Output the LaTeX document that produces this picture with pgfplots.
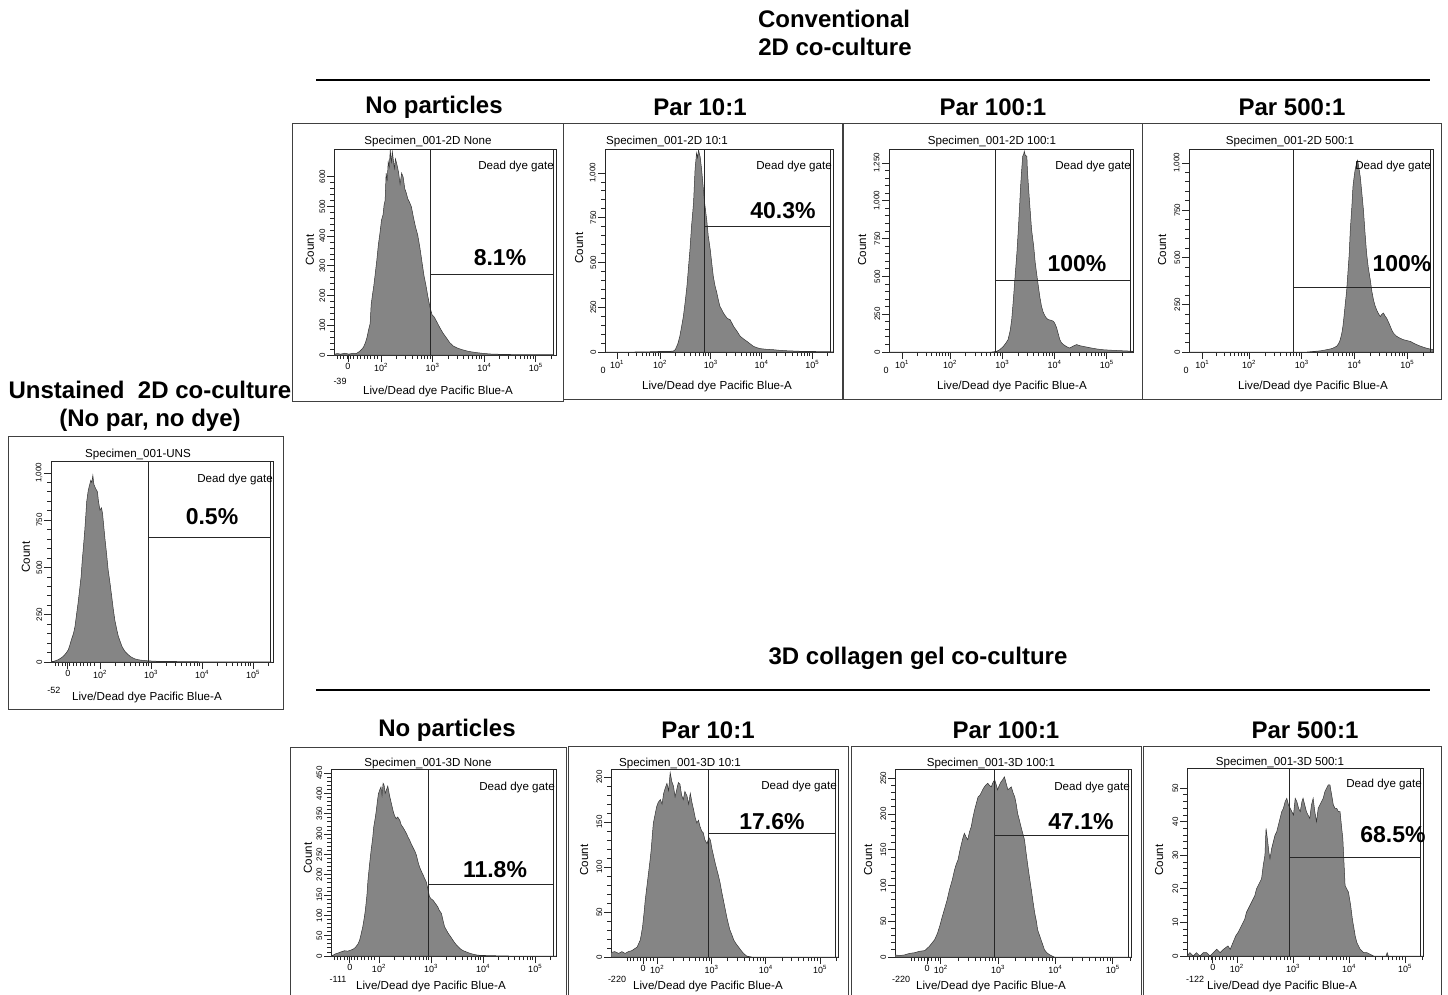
\documentclass[border=0pt]{standalone}
\usepackage{fontspec}
\setmainfont{Liberation Sans}
\usepackage{pgfplots}
\pgfplotsset{compat=1.18}

\newcommand\hdr{\fontsize{24}{28}\selectfont\bfseries}
\newcommand\pct{\fontsize{23}{27}\selectfont\bfseries}
\newcommand\sml{\fontsize{11.6}{13}\selectfont}
\newcommand\tkx{\fontsize{9}{10}\selectfont}
\newcommand\tky{\fontsize{8}{9}\selectfont}
\newcommand\ten[1]{10\textsuperscript{#1}}

% log minor ticks for the decades 10^2..10^5
\def\LM{2.301,2.477,2.602,2.699,2.778,2.845,2.903,2.954,3.301,3.477,3.602,3.699,3.778,3.845,3.903,3.954,4.301,4.477,4.602,4.699,4.778,4.845,4.903,4.954,5.301}

\tikzset{gate/.style={black!85, line width=0.9pt}}
\pgfplotsset{
  fcs/.style={
    scale only axis, anchor=south west,
    ymin=0, tick pos=left, tick align=outside,
    axis line style={black!85, line width=0.9pt},
    tick style={black!85, line width=0.8pt},
    major tick length=7pt, minor tick length=4pt,
    minor y tick num=4,
    xticklabel style={font=\tkx, inner sep=1pt},
    yticklabel style={font=\tky, rotate=90, anchor=south, inner sep=1.5pt},
    /pgf/number format/1000 sep={,},
    /pgf/number format/assume math mode=true,
  },
  logx/.style={xtick={#1,2,3,4,5},
    xticklabels={\ten{1},\ten{2},\ten{3},\ten{4},\ten{5}},
    minor xtick/.expanded={1.38,1.54,1.65,1.73,1.80,1.86,1.91,1.96,\LM}},
  biex/.style 2 args={xtick={#1,2,3,4,5},
    xticklabels={0,\ten{2},\ten{3},\ten{4},\ten{5}},
    minor xtick/.expanded={#2,\LM}},
  hist/.style={fill=black!48, draw=black!80, line width=0.5pt},
}
% inner right line of each plot frame
\newcommand\rline{\draw[gate] ([xshift=-2.5pt]rel axis cs:1,0) -- ([xshift=-2.5pt]rel axis cs:1,1);}

\begin{document}
\begin{tikzpicture}
\useasboundingbox (0pt,0pt) rectangle (1448pt,-995pt);

% ---------- 2D None
\begin{axis}[fcs, at={(334pt,-355pt)}, width=222pt, height=206pt,
  xmin=1.09, xmax=5.39, ymax=693, biex={1.36}{1.15,1.215,...,1.95},
  ytick={0,100,...,600}]
\addplot[hist] table {
1.09 2
1.15 5
1.22 3
1.30 6
1.38 3
1.46 6
1.52 5
1.56 9
1.61 16
1.66 26
1.70 42
1.73 60
1.76 85
1.79 106
1.81 170
1.83 196
1.86 232
1.89 275
1.92 320
1.95 372
1.98 410
2.01 454
2.04 472
2.06 505
2.08 520
2.10 612
2.12 585
2.14 650
2.16 632
2.18 690
2.20 645
2.22 684
2.24 655
2.26 628
2.28 660
2.31 640
2.34 615
2.37 575
2.40 612
2.43 598
2.46 560
2.49 545
2.52 525
2.55 515
2.59 498
2.63 462
2.67 430
2.71 405
2.75 365
2.79 318
2.83 270
2.87 235
2.91 195
2.95 160
2.99 135
3.03 128
3.08 112
3.14 92
3.20 74
3.27 57
3.33 42
3.40 30
3.50 22
3.59 17
3.70 12
3.85 8
4.00 5
4.15 3
4.40 2
4.75 1
5.10 1
5.35 1
} \closedcycle;
\draw[gate] (axis cs:2.95,0) -- (axis cs:2.95,693);
\draw[gate] (axis cs:2.95,270) -- (axis cs:5.34,270);
\rline
\end{axis}

% ---------- 2D 10:1
\begin{axis}[fcs, at={(605pt,-352pt)}, width=228pt, height=203pt,
  xmin=0.915, xmax=5.41, ymax=1134, logx={1.15},
  ytick={0,250,...,1000}]
\addplot[hist] table {
0.92 0
1.50 0
1.93 2
2.00 4
2.15 3
2.26 5
2.30 13
2.35 45
2.39 88
2.43 150
2.46 199
2.50 290
2.53 367
2.56 470
2.59 572
2.62 700
2.66 832
2.69 1019
2.72 1112
2.74 1085
2.76 1130
2.78 1100
2.79 1093
2.82 1019
2.85 925
2.88 830
2.92 739
2.95 650
2.99 572
3.02 495
3.05 423
3.08 375
3.12 330
3.15 290
3.18 255
3.22 235
3.25 218
3.28 205
3.32 190
3.35 184
3.38 181
3.42 160
3.45 143
3.52 115
3.58 88
3.65 72
3.71 60
3.78 45
3.84 32
3.90 25
3.97 19
4.10 15
4.23 13
4.37 9
4.50 7
4.76 4
5.02 3
5.30 2
5.41 1
} \closedcycle;
\draw[gate] (axis cs:2.87,0) -- (axis cs:2.87,1134);
\draw[gate] (axis cs:2.87,704) -- (axis cs:5.36,704);
\rline
\end{axis}

% ---------- 2D 100:1
\begin{axis}[fcs, at={(889pt,-352pt)}, width=244pt, height=203pt,
  xmin=0.833, xmax=5.50, ymax=1342, logx={1.08},
  ytick={0,250,...,1250}]
\addplot[hist] table {
0.83 0
2.80 0
2.89 4
2.95 15
3.02 37
3.07 60
3.11 82
3.15 140
3.18 214
3.21 340
3.24 478
3.28 660
3.31 831
3.33 960
3.35 1096
3.37 1200
3.39 1294
3.41 1310
3.42 1327
3.44 1300
3.47 1294
3.48 1200
3.50 1096
3.53 950
3.56 809
3.60 700
3.63 589
3.66 510
3.69 434
3.72 360
3.75 302
3.78 265
3.82 236
3.85 222
3.88 214
3.93 210
3.98 203
4.01 185
4.04 159
4.07 120
4.10 82
4.13 62
4.17 49
4.23 35
4.29 26
4.35 38
4.42 49
4.48 42
4.55 37
4.65 30
4.74 24
4.83 19
4.93 15
5.02 13
5.12 11
5.25 9
5.38 7
5.47 5
5.50 4
} \closedcycle;
\draw[gate] (axis cs:2.86,0) -- (axis cs:2.86,1342);
\draw[gate] (axis cs:2.86,476) -- (axis cs:5.45,476);
\rline
\end{axis}

% ---------- 2D 500:1
\begin{axis}[fcs, at={(1189pt,-352pt)}, width=244pt, height=203pt,
  xmin=0.86, xmax=5.49, ymax=1074, logx={1.11},
  ytick={0,250,...,1000}]
\addplot[hist] table {
0.86 0
3.10 0
3.22 3
3.35 6
3.47 12
3.57 18
3.66 30
3.70 45
3.73 65
3.76 100
3.78 135
3.80 185
3.82 241
3.85 320
3.87 399
3.90 520
3.92 645
3.95 770
3.97 873
3.99 920
4.01 961
4.04 1000
4.06 1014
4.08 980
4.11 926
4.14 840
4.17 750
4.20 630
4.23 522
4.26 450
4.30 381
4.33 320
4.36 276
4.39 245
4.42 223
4.45 205
4.49 188
4.52 200
4.55 206
4.58 190
4.61 179
4.65 155
4.68 135
4.71 115
4.74 100
4.80 83
4.87 72
4.93 65
5.00 60
5.06 56
5.12 47
5.18 39
5.25 31
5.31 25
5.37 20
5.43 16
5.47 14
5.49 12
} \closedcycle;
\draw[gate] (axis cs:2.85,0) -- (axis cs:2.85,1074);
\draw[gate] (axis cs:2.85,339) -- (axis cs:5.44,339);
\rline
\end{axis}

% ---------- Unstained
\begin{axis}[fcs, at={(51pt,-662pt)}, width=222pt, height=201pt,
  xmin=1.04, xmax=5.39, ymax=1063, biex={1.37}{1.12,1.19,...,1.95},
  ytick={0,250,...,1000}]
\addplot[hist] table {
1.04 2
1.10 4
1.18 12
1.23 20
1.28 30
1.33 45
1.38 65
1.41 90
1.44 118
1.48 150
1.51 188
1.54 250
1.57 311
1.60 380
1.63 452
1.65 530
1.67 592
1.70 690
1.72 768
1.74 850
1.77 908
1.79 930
1.82 961
1.84 950
1.86 987
1.88 940
1.90 926
1.93 910
1.95 900
1.97 850
2.00 803
2.03 815
2.05 785
2.08 700
2.10 645
2.13 570
2.16 487
2.20 410
2.23 346
2.26 280
2.29 223
2.33 170
2.36 135
2.40 105
2.43 83
2.46 68
2.49 56
2.54 42
2.59 30
2.64 22
2.69 16
2.75 12
2.82 9
2.95 6
3.10 4
3.41 3
3.70 2
4.06 1
4.50 1
5.37 0
} \closedcycle;
\draw[gate] (axis cs:2.94,0) -- (axis cs:2.94,1063);
\draw[gate] (axis cs:2.94,661) -- (axis cs:5.34,661);
\rline
\end{axis}

% ---------- 3D None
\begin{axis}[fcs, at={(331pt,-956pt)}, width=225pt, height=187pt,
  xmin=1.08, xmax=5.40, ymax=460, biex={1.44}{1.14,1.205,...,1.95},
  ytick={0,50,...,450}]
\addplot[hist] table {
1.08 1
1.12 2
1.16 5
1.21 7
1.27 10
1.34 13
1.40 12
1.47 15
1.52 18
1.56 23
1.60 30
1.63 39
1.66 55
1.69 72
1.72 95
1.74 113
1.77 150
1.79 187
1.82 225
1.85 260
1.88 290
1.90 317
1.93 340
1.95 358
1.97 380
1.99 399
2.02 410
2.04 416
2.06 395
2.08 425
2.10 420
2.12 400
2.14 407
2.17 418
2.21 391
2.24 375
2.27 358
2.30 345
2.33 338
2.36 342
2.40 334
2.43 322
2.46 317
2.50 308
2.53 301
2.56 292
2.59 285
2.62 276
2.65 268
2.69 258
2.72 248
2.75 232
2.78 219
2.81 210
2.85 199
2.88 190
2.91 182
2.94 165
2.97 146
3.00 141
3.04 137
3.08 130
3.13 121
3.16 112
3.20 105
3.23 88
3.26 72
3.30 63
3.33 56
3.38 47
3.42 39
3.47 30
3.52 23
3.57 17
3.62 13
3.68 10
3.74 7
3.82 4
3.90 2
4.10 1
4.50 0
5.40 0
} \closedcycle;
\draw[gate] (axis cs:2.96,0) -- (axis cs:2.96,460);
\draw[gate] (axis cs:2.96,177) -- (axis cs:5.35,177);
\rline
\end{axis}

% ---------- 3D 10:1
\begin{axis}[fcs, at={(611pt,-957pt)}, width=227pt, height=188pt,
  xmin=1.15, xmax=5.33, ymax=209, biex={1.74}{1.45,1.51,...,1.97},
  ytick={0,50,...,200}]
\addplot[hist] table {
1.15 5
1.22 6
1.29 4
1.35 6
1.41 4
1.47 6
1.53 7
1.58 9
1.63 11
1.66 15
1.69 19
1.71 26
1.73 33
1.76 50
1.78 63
1.81 78
1.84 93
1.87 108
1.89 119
1.91 135
1.93 149
1.96 158
1.99 167
2.02 172
2.06 175
2.09 170
2.12 182
2.15 188
2.18 193
2.21 185
2.24 205
2.27 195
2.30 190
2.33 178
2.36 186
2.39 194
2.42 192
2.45 180
2.48 175
2.51 184
2.55 179
2.58 170
2.61 182
2.64 172
2.67 164
2.70 155
2.73 149
2.76 152
2.79 145
2.82 140
2.85 138
2.88 130
2.92 126
2.95 133
2.98 130
3.01 120
3.04 112
3.07 104
3.10 97
3.13 90
3.16 82
3.19 72
3.22 63
3.25 54
3.28 45
3.31 37
3.34 30
3.38 24
3.41 19
3.45 15
3.50 11
3.55 7
3.59 4
3.65 1
3.74 0
5.33 0
} \closedcycle;
\draw[gate] (axis cs:2.94,0) -- (axis cs:2.94,209);
\draw[gate] (axis cs:2.94,137) -- (axis cs:5.28,137);
\rline
\end{axis}

% ---------- 3D 100:1
\begin{axis}[fcs, at={(895pt,-957pt)}, width=236pt, height=188pt,
  xmin=1.20, xmax=5.32, ymax=263, biex={1.76}{1.48,1.54,...,1.97},
  ytick={0,50,...,250}]
\addplot[hist] table {
1.20 3
1.28 2
1.37 3
1.45 5
1.54 6
1.63 8
1.72 9
1.76 12
1.80 15
1.85 20
1.89 24
1.94 33
1.98 43
2.02 55
2.06 66
2.11 80
2.15 94
2.20 108
2.24 122
2.27 130
2.30 136
2.33 148
2.35 155
2.38 165
2.41 173
2.44 168
2.47 164
2.50 175
2.53 182
2.56 195
2.59 206
2.62 215
2.65 224
2.68 226
2.70 229
2.73 234
2.76 238
2.79 241
2.82 243
2.85 240
2.88 238
2.91 244
2.94 248
2.97 240
2.99 234
3.02 240
3.05 245
3.08 248
3.11 252
3.14 243
3.17 234
3.20 236
3.23 238
3.26 230
3.29 224
3.32 212
3.34 201
3.37 192
3.40 182
3.43 173
3.46 164
3.49 145
3.52 127
3.55 110
3.58 94
3.61 77
3.64 61
3.67 49
3.69 38
3.72 31
3.75 24
3.78 17
3.81 10
3.85 6
3.90 3
3.98 0
5.32 0
} \closedcycle;
\draw[gate] (axis cs:2.94,0) -- (axis cs:2.94,263);
\draw[gate] (axis cs:2.94,170) -- (axis cs:5.28,170);
\rline
\end{axis}

% ---------- 3D 500:1
\begin{axis}[fcs, at={(1187pt,-956pt)}, width=236pt, height=188pt,
  xmin=1.11, xmax=5.32, ymax=56, biex={1.57}{1.16,1.225,...,1.97},
  ytick={0,10,...,50}]
\addplot[hist] table {
1.11 0
1.16 1
1.22 0
1.28 1
1.34 0
1.40 1
1.46 1
1.52 0
1.58 1
1.64 2
1.70 1
1.76 2
1.84 3
1.88 2
1.93 4
1.98 6
2.02 7
2.05 8
2.08 9
2.11 10
2.14 11
2.17 13
2.20 14
2.23 15
2.26 16
2.29 17
2.32 18
2.35 20
2.38 21
2.41 22
2.44 23
2.47 27
2.50 30
2.52 38
2.55 34
2.57 31
2.59 29
2.62 32
2.65 34
2.68 36
2.71 37
2.74 39
2.77 41
2.80 43
2.83 44
2.86 46
2.89 47
2.92 45
2.95 44
2.98 43
3.01 42
3.04 47
3.07 46
3.10 44
3.13 43
3.16 46
3.18 47
3.21 45
3.24 43
3.27 42
3.30 41
3.33 45
3.36 47
3.39 43
3.42 40
3.45 44
3.48 45
3.51 46
3.54 47
3.57 49
3.60 50
3.63 51
3.66 51
3.69 48
3.72 45
3.75 44
3.78 44
3.81 43
3.84 43
3.87 38
3.89 35
3.91 28
3.93 21
3.96 20
3.99 19
4.01 17
4.03 15
4.06 11
4.08 9
4.11 6
4.14 4
4.17 3
4.20 2
4.26 1
4.32 1
4.44 0
4.66 0
4.68 1
4.70 0
5.32 0
} \closedcycle;
\draw[gate] (axis cs:2.94,0) -- (axis cs:2.94,56);
\draw[gate] (axis cs:2.94,29.5) -- (axis cs:5.28,29.5);
\rline
\end{axis}

% ---------- frames, headings and panel texts (pixel grid)
\begin{scope}[x=1pt, y=-1pt]
\begin{scope}[black!75, line width=1pt]
\draw (292,124) rectangle (563,401);
\draw (563,124) rectangle (842,399);
\draw (843,124) rectangle (1142,399);
\draw (1142,124) rectangle (1441,399);
\draw (8,436) rectangle (283,709);
\draw (290,995) -- (290,747) -- (566,747) -- (566,995);
\draw (568,995) -- (568,746) -- (848,746) -- (848,995);
\draw (851,995) -- (851,746) -- (1141,746) -- (1141,995);
\draw (1143,995) -- (1143,746) -- (1441,746) -- (1441,995);
\end{scope}

\node[font=\hdr] at (834,19) {Conventional};
\node[font=\hdr] at (835,47) {2D co-culture};
\draw[line width=1.3pt] (316,80) -- (1430,80);
\node[font=\hdr] at (434,107) {No particles};
\node[font=\hdr] at (700,107) {Par 10:1};
\node[font=\hdr] at (993,107) {Par 100:1};
\node[font=\hdr] at (1292,107) {Par 500:1};
\node[font=\hdr] at (150,390) {Unstained\ \ 2D co-culture};
\node[font=\hdr] at (150,420) {(No par, no dye)};
\node[font=\hdr] at (918,658) {3D collagen gel co-culture};
\draw[line width=1.3pt] (316,690) -- (1430,690);
\node[font=\hdr] at (447,730) {No particles};
\node[font=\hdr] at (708,730) {Par 10:1};
\node[font=\hdr] at (1006,730) {Par 100:1};
\node[font=\hdr] at (1305,730) {Par 500:1};

% panel titles
\node[font=\sml] at (428,142) {Specimen\_001-2D None};
\node[font=\sml] at (667,142) {Specimen\_001-2D 10:1};
\node[font=\sml] at (992,142) {Specimen\_001-2D 100:1};
\node[font=\sml] at (1290,142) {Specimen\_001-2D 500:1};
\node[font=\sml] at (138,454) {Specimen\_001-UNS};
\node[font=\sml] at (428,763) {Specimen\_001-3D None};
\node[font=\sml] at (680,763) {Specimen\_001-3D 10:1};
\node[font=\sml] at (991,763) {Specimen\_001-3D 100:1};
\node[font=\sml] at (1280,762) {Specimen\_001-3D 500:1};

% gate names
\node[font=\sml, anchor=east, inner sep=0pt] at (554,167) {Dead dye gate};
\node[font=\sml, anchor=east, inner sep=0pt] at (832,167) {Dead dye gate};
\node[font=\sml, anchor=east, inner sep=0pt] at (1131,167) {Dead dye gate};
\node[font=\sml, anchor=east, inner sep=0pt] at (1431,167) {Dead dye gate};
\node[font=\sml, anchor=east, inner sep=0pt] at (273,479) {Dead dye gate};
\node[font=\sml, anchor=east, inner sep=0pt] at (555,787) {Dead dye gate};
\node[font=\sml, anchor=east, inner sep=0pt] at (837,786) {Dead dye gate};
\node[font=\sml, anchor=east, inner sep=0pt] at (1130,787) {Dead dye gate};
\node[font=\sml, anchor=east, inner sep=0pt] at (1422,784) {Dead dye gate};

% percentages
\node[font=\pct] at (500,258) {8.1\%};
\node[font=\pct] at (783,211) {40.3\%};
\node[font=\pct] at (1077,264) {100\%};
\node[font=\pct] at (1402,264) {100\%};
\node[font=\pct] at (212,517) {0.5\%};
\node[font=\pct] at (495,870) {11.8\%};
\node[font=\pct] at (772,822) {17.6\%};
\node[font=\pct] at (1081,822) {47.1\%};
\node[font=\pct] at (1393,835) {68.5\%};

% Count labels
\node[font=\sml, rotate=90] at (310,250) {Count};
\node[font=\sml, rotate=90] at (579,248) {Count};
\node[font=\sml, rotate=90] at (862,250) {Count};
\node[font=\sml, rotate=90] at (1162,250) {Count};
\node[font=\sml, rotate=90] at (26,557) {Count};
\node[font=\sml, rotate=90] at (308,858) {Count};
\node[font=\sml, rotate=90] at (584,860) {Count};
\node[font=\sml, rotate=90] at (868,860) {Count};
\node[font=\sml, rotate=90] at (1159,860) {Count};

% x axis labels
\node[font=\sml] at (438,391) {Live/Dead dye Pacific Blue-A};
\node[font=\sml] at (717,386) {Live/Dead dye Pacific Blue-A};
\node[font=\sml] at (1012,386) {Live/Dead dye Pacific Blue-A};
\node[font=\sml] at (1313,386) {Live/Dead dye Pacific Blue-A};
\node[font=\sml] at (147,697) {Live/Dead dye Pacific Blue-A};
\node[font=\sml] at (431,986) {Live/Dead dye Pacific Blue-A};
\node[font=\sml] at (708,986) {Live/Dead dye Pacific Blue-A};
\node[font=\sml] at (991,986) {Live/Dead dye Pacific Blue-A};
\node[font=\sml] at (1282,986) {Live/Dead dye Pacific Blue-A};

% lowest scale values at the left ends of the x axes
\node[font=\tkx] at (340,381) {-39};
\node[font=\tkx] at (603,370) {0};
\node[font=\tkx] at (886,370) {0};
\node[font=\tkx] at (1186,370) {0};
\node[font=\tkx] at (54,690) {-52};
\node[font=\tkx] at (338,979) {-111};
\node[font=\tkx] at (617,979) {-220};
\node[font=\tkx] at (901,979) {-220};
\node[font=\tkx] at (1195,979) {-122};
\end{scope}
\end{tikzpicture}
\end{document}
